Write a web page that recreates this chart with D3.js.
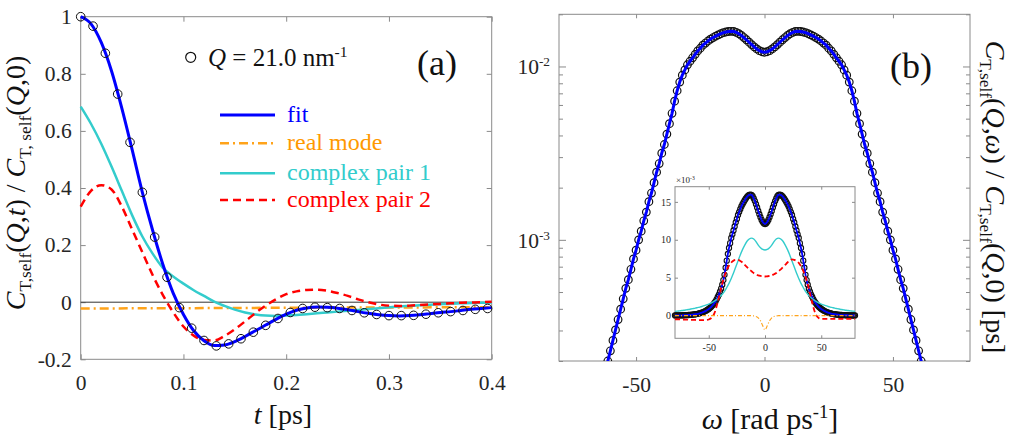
<!DOCTYPE html>
<html>
<head>
<meta charset="utf-8">
<script src="https://cdn.jsdelivr.net/npm/d3@7"></script>
<style>
  body { margin: 0; background: #fff; }
  svg { display: block; font-family: "Liberation Serif", Tinos, "Times New Roman", Times, "DejaVu Serif", serif; }
</style>
</head>
<body>
<script>
// ---------- panel (a): C_T,self(Q,t) at Q = 21.0 nm^-1
const tSample = [0, 0.012, 0.024, 0.036, 0.048, 0.06, 0.072, 0.084, 0.096, 0.108, 0.12, 0.132,
  0.144, 0.156, 0.168, 0.18, 0.192, 0.204, 0.216, 0.228, 0.24, 0.252, 0.264, 0.276, 0.288, 0.3,
  0.312, 0.324, 0.336, 0.348, 0.36, 0.372, 0.384, 0.396];
const cSample = [1.0, 0.967, 0.872, 0.729, 0.56, 0.385, 0.228, 0.0875, -0.019, -0.091, -0.134, -0.153,
  -0.146, -0.128, -0.105, -0.081, -0.057, -0.036, -0.022, -0.0175, -0.019, -0.022, -0.029, -0.037, -0.043, -0.047,
  -0.047, -0.046, -0.042, -0.037, -0.033, -0.029, -0.025, -0.022];

const tFit = [0, 0.01, 0.02, 0.03, 0.04, 0.05, 0.06, 0.07, 0.08, 0.09, 0.1, 0.11, 0.12, 0.13, 0.14,
  0.15, 0.16, 0.17, 0.18, 0.19, 0.2, 0.21, 0.22, 0.23, 0.24, 0.25, 0.26, 0.27, 0.28, 0.29, 0.3,
  0.31, 0.32, 0.33, 0.34, 0.35, 0.36, 0.37, 0.38, 0.39, 0.4];
const fitVals = [1.0, 0.975, 0.91, 0.81, 0.68, 0.535, 0.385, 0.252, 0.132, 0.032, -0.043, -0.1, -0.135, -0.152, -0.15,
  -0.138, -0.12, -0.1, -0.08, -0.06, -0.042, -0.028, -0.02, -0.017, -0.018, -0.021, -0.026, -0.033, -0.039, -0.044, -0.047,
  -0.048, -0.047, -0.044, -0.04, -0.036, -0.033, -0.029, -0.025, -0.022, -0.019];
const pair1Vals = [0.685, 0.625, 0.555, 0.475, 0.39, 0.305, 0.23, 0.17, 0.12, 0.09, 0.065, 0.042, 0.022, 0.002, -0.013,
  -0.026, -0.036, -0.043, -0.047, -0.048, -0.047, -0.045, -0.042, -0.039, -0.036, -0.033, -0.03, -0.027, -0.024, -0.021, -0.018,
  -0.015, -0.013, -0.011, -0.009, -0.007, -0.005, -0.004, -0.003, -0.002, -0.001];
const pair2Vals = [0.335, 0.39, 0.41, 0.395, 0.335, 0.255, 0.175, 0.095, 0.025, -0.035, -0.085, -0.117, -0.132, -0.134, -0.118,
  -0.095, -0.067, -0.038, -0.012, 0.01, 0.028, 0.038, 0.043, 0.044, 0.04, 0.032, 0.022, 0.01, 0.0, -0.008, -0.012,
  -0.013, -0.012, -0.01, -0.008, -0.006, -0.004, -0.002, -0.001, 0.0, 0.002];
const tReal = [0, 0.1, 0.2, 0.3, 0.4];
const realVals = [-0.022, -0.021, -0.0195, -0.0185, -0.0175];

const xTicksA = [0, 0.1, 0.2, 0.3, 0.4];
const yTicksA = [-0.2, 0, 0.2, 0.4, 0.6, 0.8, 1];

// ---------- panel (b): spectrum, values in units of 1e-3 ps
const omega = [-80, -79, -78, -77, -76, -75, -74, -73, -72, -71, -70, -69, -68, -67, -66, -65, -64, -63, -62, -61,
  -60, -59, -58, -57, -56, -55, -54, -53, -52, -51, -50, -49, -48, -47, -46, -45, -44, -43, -42, -41,
  -40, -39, -38, -37, -36, -35, -34, -33, -32, -31, -30, -29, -28, -27, -26, -25, -24, -23, -22, -21,
  -20, -19, -18, -17, -16, -15, -14, -13, -12, -11, -10, -9, -8, -7, -6, -5, -4, -3, -2, -1,
  0, 1, 2, 3, 4, 5, 6, 7, 8, 9, 10, 11, 12, 13, 14, 15, 16, 17, 18, 19,
  20, 21, 22, 23, 24, 25, 26, 27, 28, 29, 30, 31, 32, 33, 34, 35, 36, 37, 38, 39,
  40, 41, 42, 43, 44, 45, 46, 47, 48, 49, 50, 51, 52, 53, 54, 55, 56, 57, 58, 59,
  60, 61, 62, 63, 64, 65, 66, 67, 68, 69, 70, 71, 72, 73, 74, 75, 76, 77, 78, 79, 80];
const spectrum = [0.014, 0.017, 0.019, 0.022, 0.025, 0.029, 0.033, 0.038, 0.044, 0.05, 0.058, 0.066, 0.076, 0.087, 0.1, 0.115, 0.132, 0.151, 0.174, 0.2,
  0.229, 0.263, 0.302, 0.347, 0.398, 0.457, 0.525, 0.589, 0.676, 0.776, 0.871, 1.0, 1.122, 1.288, 1.445, 1.66, 1.862, 2.138, 2.455, 2.754,
  3.162, 3.548, 4.074, 4.677, 5.37, 6.31, 7.244, 8.128, 8.913, 9.55, 10.23, 10.72, 11.22, 11.75, 12.3, 12.74, 13.27, 13.65, 14.03, 14.39,
  14.69, 14.96, 15.21, 15.45, 15.67, 15.81, 15.92, 15.96, 15.92, 15.74, 15.45, 15.1, 14.69, 14.26, 13.8, 13.37, 12.97, 12.62, 12.33, 12.16,
  12.08, 12.16, 12.33, 12.62, 12.97, 13.37, 13.8, 14.26, 14.69, 15.1, 15.45, 15.74, 15.92, 15.96, 15.92, 15.81, 15.67, 15.45, 15.21, 14.96,
  14.69, 14.39, 14.03, 13.65, 13.27, 12.74, 12.3, 11.75, 11.22, 10.72, 10.23, 9.55, 8.913, 8.128, 7.244, 6.31, 5.37, 4.677, 4.074, 3.548,
  3.162, 2.754, 2.455, 2.138, 1.862, 1.66, 1.445, 1.288, 1.122, 1.0, 0.871, 0.776, 0.676, 0.589, 0.525, 0.457, 0.398, 0.347, 0.302, 0.263,
  0.229, 0.2, 0.174, 0.151, 0.132, 0.115, 0.1, 0.087, 0.076, 0.066, 0.058, 0.05, 0.044, 0.038, 0.033, 0.029, 0.025, 0.022, 0.019, 0.017, 0.014];

// inset components, sampled every 2 rad/ps
const omegaC = [-80, -78, -76, -74, -72, -70, -68, -66, -64, -62, -60, -58, -56, -54, -52, -50, -48, -46, -44, -42,
  -40, -38, -36, -34, -32, -30, -28, -26, -24, -22, -20, -18, -16, -14, -12, -10, -8, -6, -4, -2,
  0, 2, 4, 6, 8, 10, 12, 14, 16, 18, 20, 22, 24, 26, 28, 30, 32, 34, 36, 38,
  40, 42, 44, 46, 48, 50, 52, 54, 56, 58, 60, 62, 64, 66, 68, 70, 72, 74, 76, 78, 80];
const pair1Spec = [0.55, 0.58, 0.62, 0.66, 0.7, 0.75, 0.8, 0.86, 0.92, 0.98, 1.05, 1.12, 1.2, 1.3, 1.4, 1.52, 1.65, 1.82, 2.0, 2.22,
  2.5, 2.82, 3.2, 3.7, 4.25, 4.9, 5.6, 6.4, 7.2, 8.0, 8.7, 9.3, 9.8, 10.1, 10.22, 10.1, 9.75, 9.3, 8.95, 8.72,
  8.65, 8.72, 8.95, 9.3, 9.75, 10.1, 10.22, 10.1, 9.8, 9.3, 8.7, 8.0, 7.2, 6.4, 5.6, 4.9, 4.25, 3.7, 3.2, 2.82,
  2.5, 2.22, 2.0, 1.82, 1.65, 1.52, 1.4, 1.3, 1.2, 1.12, 1.05, 0.98, 0.92, 0.86, 0.8, 0.75, 0.7, 0.66, 0.62, 0.58, 0.55];
const pair2Spec = [-0.5, -0.5, -0.51, -0.52, -0.53, -0.54, -0.55, -0.56, -0.57, -0.58, -0.59, -0.6, -0.6, -0.6, -0.58, -0.52, -0.35, 0.0, 0.7, 1.8,
  3.0, 4.2, 5.2, 6.0, 6.6, 7.0, 7.25, 7.35, 7.35, 7.2, 7.0, 6.7, 6.4, 6.1, 5.85, 5.6, 5.45, 5.3, 5.22, 5.18,
  5.15, 5.18, 5.22, 5.3, 5.45, 5.6, 5.85, 6.1, 6.4, 6.7, 7.0, 7.25, 7.4, 7.35, 7.2, 6.95, 6.5, 5.9, 5.1, 4.1,
  2.9, 1.7, 0.6, -0.05, -0.35, -0.45, -0.45, -0.45, -0.45, -0.45, -0.45, -0.45, -0.45, -0.45, -0.45, -0.45, -0.45, -0.45, -0.45, -0.45, -0.45];
const realSpec = [0, 0, 0, 0, 0, 0, 0, 0, 0, 0, 0, 0, 0, 0, 0, 0, 0, 0, 0, 0,
  0, 0, 0, 0, 0, 0, 0, 0, 0, 0, 0, 0, 0, 0, -0.02, -0.05, -0.12, -0.3, -0.7, -1.35,
  -1.9, -1.35, -0.7, -0.3, -0.12, -0.05, -0.02, 0, 0, 0, 0, 0, 0, 0, 0, 0, 0, 0, 0, 0,
  0, 0, 0, 0, 0, 0, 0, 0, 0, 0, 0, 0, 0, 0, 0, 0, 0, 0, 0, 0, 0];

const xTicksB = [-50, 0, 50];
const insetXTicks = [-50, 0, 50];
const insetYTicks = [0, 5, 10, 15];

const legendA = [
  { label: "fit", color: "#0000ff", text: "#0000ff", dash: null, width: 3 },
  { label: "real mode", color: "#ffa31a", text: "#ff9900", dash: "9,4,2,4", width: 2.5 },
  { label: "complex pair 1", color: "#33cccc", text: "#33cccc", dash: null, width: 2.5 },
  { label: "complex pair 2", color: "#ff0000", text: "#ff0000", dash: "8,5", width: 2.5 },
];

const width = 1013;
const height = 435;
const frameColor = "#8a8a8a";
const tickText = "#262626";
const serif = '"Liberation Serif", Tinos, "Times New Roman", Times, "DejaVu Serif", serif';

const svg = d3
  .select("body")
  .append("svg")
  .attr("width", width)
  .attr("height", height)
  .attr("font-family", serif);

// text with italic / sub / sup parts
function richText(sel, parts, fs) {
  sel.style("white-space", "pre");
  let shift = 0;
  parts.forEach(([str, kind]) => {
    const target = kind === "sub" ? fs * 0.22 : kind === "sup" ? -fs * 0.38 : 0;
    const ts = sel.append("tspan").text(str).attr("dy", target - shift);
    shift = target;
    if (kind === "i") ts.attr("font-style", "italic");
    if (kind === "sub" || kind === "sup") ts.attr("font-size", fs * 0.62);
  });
}

// frame with inward ticks on all four sides
function boxAxes(g, x, y, o) {
  const [xl, xr] = x.range();
  const [yb, yt] = y.range();
  const style = (sel) => {
    sel.attr("font-family", serif).attr("font-size", o.fs);
    sel.select(".domain").remove();
    sel.selectAll(".tick line").attr("stroke", frameColor);
    sel.selectAll(".tick text").attr("fill", tickText);
  };
  const none = () => "";
  g.append("g")
    .attr("transform", `translate(0,${yb})`)
    .call(d3.axisBottom(x).tickValues(o.xt).tickSizeInner(-o.len).tickSizeOuter(0)
      .tickPadding(o.xpad).tickFormat(o.xf || none))
    .call(style);
  g.append("g")
    .attr("transform", `translate(0,${yt})`)
    .call(d3.axisTop(x).tickValues(o.xt).tickSizeInner(-o.len).tickSizeOuter(0).tickFormat(none))
    .call(style);
  g.append("g")
    .attr("class", "yleft")
    .attr("transform", `translate(${xl},0)`)
    .call(d3.axisLeft(y).tickValues(o.yt).tickSizeInner(-o.len).tickSizeOuter(0)
      .tickPadding(o.ypad).tickFormat(o.yf || none))
    .call(style);
  g.append("g")
    .attr("class", "yright")
    .attr("transform", `translate(${xr},0)`)
    .call(d3.axisRight(y).tickValues(o.yt).tickSizeInner(-o.len).tickSizeOuter(0).tickFormat(none))
    .call(style);
  g.append("rect")
    .attr("x", xl)
    .attr("y", yt)
    .attr("width", xr - xl)
    .attr("height", yb - yt)
    .attr("fill", "none")
    .attr("stroke", frameColor);
}

// ================= panel (a)
const ax = d3.scaleLinear().domain([0, 0.4]).range([80.7, 491.7]);
const ay = d3.scaleLinear().domain([-0.2, 1]).range([359.3, 16.7]);
const gA = svg.append("g");

boxAxes(gA, ax, ay, {
  xt: xTicksA, yt: yTicksA, len: 5, fs: 21.5, xpad: 15, ypad: 9,
  xf: (d) => String(d), yf: (d) => String(d),
});

gA.append("line")
  .attr("x1", ax(0)).attr("x2", ax(0.4))
  .attr("y1", ay(0)).attr("y2", ay(0))
  .attr("stroke", "#333").attr("stroke-width", 1);

const lineA = (xs) => d3.line().x((d, i) => ax(xs[i])).y((d) => ay(d)).curve(d3.curveMonotoneX);

gA.append("path").datum(realVals)
  .attr("fill", "none").attr("stroke", legendA[1].color).attr("stroke-width", 2.5)
  .attr("stroke-dasharray", legendA[1].dash).attr("d", lineA(tReal));
gA.append("path").datum(pair1Vals)
  .attr("fill", "none").attr("stroke", legendA[2].color).attr("stroke-width", 2.5)
  .attr("d", lineA(tFit));
gA.append("path").datum(pair2Vals)
  .attr("fill", "none").attr("stroke", legendA[3].color).attr("stroke-width", 2.5)
  .attr("stroke-dasharray", legendA[3].dash).attr("d", lineA(tFit));
gA.append("path").datum(fitVals)
  .attr("fill", "none").attr("stroke", legendA[0].color).attr("stroke-width", 3)
  .attr("d", lineA(tFit));

gA.selectAll("circle.pt")
  .data(cSample)
  .join("circle")
  .attr("class", "pt")
  .attr("cx", (d, i) => ax(tSample[i]))
  .attr("cy", (d) => ay(d))
  .attr("r", 4.3)
  .attr("fill", "none")
  .attr("stroke", "#111")
  .attr("stroke-width", 1);

// legend
gA.append("circle").attr("cx", 190.7).attr("cy", 57.3).attr("r", 5)
  .attr("fill", "none").attr("stroke", "#111").attr("stroke-width", 1.2);
gA.append("text").attr("x", 208).attr("y", 66).attr("font-size", 25).attr("fill", "#111")
  .call(richText, [["Q", "i"], [" = 21.0 nm", ""], ["-1", "sup"]], 25);
gA.append("text").attr("x", 417).attr("y", 75).attr("font-size", 36).attr("fill", "#111").text("(a)");

legendA.forEach((item, i) => {
  const yy = [115, 143.3, 173.3, 200][i];
  gA.append("line")
    .attr("x1", 220).attr("x2", 275).attr("y1", yy).attr("y2", yy)
    .attr("stroke", item.color).attr("stroke-width", item.width)
    .attr("stroke-dasharray", item.dash);
  gA.append("text")
    .attr("x", 287).attr("y", yy + 7)
    .attr("font-size", 24).attr("fill", item.text)
    .text(item.label);
});

// axis titles (a)
gA.append("text")
  .attr("x", 283).attr("y", 424)
  .attr("text-anchor", "middle").attr("font-size", 28).attr("fill", "#111")
  .call(richText, [["t", "i"], [" [ps]", ""]], 28);
gA.append("text")
  .attr("transform", "translate(25,183) rotate(-90)")
  .attr("text-anchor", "middle").attr("font-size", 28).attr("fill", "#111")
  .call(richText, [["C", "i"], ["T,self", "sub"], ["(", ""], ["Q", "i"], [",", ""], ["t", "i"], [") / ", ""],
    ["C", "i"], ["T, self", "sub"], ["(", ""], ["Q", "i"], [",0)", ""]], 28);

// ================= panel (b)
const bx = d3.scaleLinear().domain([-80, 80]).range([559, 970]);
const by = d3.scaleLog().domain([2.0e-4, 2.0e-2]).range([361, 14.3]);
const gB = svg.append("g");

boxAxes(gB, bx, by, {
  xt: xTicksB, yt: by.ticks(), len: 4, fs: 21.5, xpad: 16, ypad: 9,
  xf: (d) => String(d),
});
// longer ticks for the decades
gB.select(".yleft").selectAll(".tick line").filter((d) => Math.abs(Math.log10(d) % 1) < 1e-9).attr("x2", 7);
gB.select(".yright").selectAll(".tick line").filter((d) => Math.abs(Math.log10(d) % 1) < 1e-9).attr("x2", -7);

[[1e-2, "-2"], [1e-3, "-3"]].forEach(([v, e]) => {
  gB.append("text")
    .attr("x", 550).attr("y", by(v) + 8)
    .attr("text-anchor", "end").attr("font-size", 21.5).attr("fill", tickText)
    .call(richText, [["10", ""], [e, "sup"]], 21.5);
});

svg.append("clipPath").attr("id", "clipB")
  .append("rect").attr("x", 559).attr("y", 14.3).attr("width", 411).attr("height", 346.7);

const plotB = gB.append("g").attr("clip-path", "url(#clipB)");
plotB.selectAll("circle")
  .data(spectrum)
  .join("circle")
  .attr("cx", (d, i) => bx(omega[i]))
  .attr("cy", (d) => by(d * 1e-3))
  .attr("r", 3.8)
  .attr("fill", "none")
  .attr("stroke", "#111")
  .attr("stroke-width", 1.2);
plotB.append("path").datum(spectrum)
  .attr("fill", "none").attr("stroke", "#0000ff").attr("stroke-width", 3)
  .attr("d", d3.line().x((d, i) => bx(omega[i])).y((d) => by(d * 1e-3)));

gB.append("text").attr("x", 890).attr("y", 78).attr("font-size", 36).attr("fill", "#111").text("(b)");

gB.append("text")
  .attr("x", 770).attr("y", 429)
  .attr("text-anchor", "middle").attr("font-size", 30).attr("fill", "#111")
  .call(richText, [["ω", "i"], [" [rad ps", ""], ["-1", "sup"], ["]", ""]], 30);
gB.append("text")
  .attr("transform", "translate(986,197) rotate(90)")
  .attr("text-anchor", "middle").attr("font-size", 28).attr("fill", "#111")
  .call(richText, [["C", "i"], ["T,self", "sub"], ["(", ""], ["Q", "i"], [",", ""], ["ω", "i"], [") / ", ""],
    ["C", "i"], ["T,self", "sub"], ["(", ""], ["Q", "i"], [",0) [ps]", ""]], 28);

// ---------- inset (linear scale)
const ix = d3.scaleLinear().domain([-80, 80]).range([675, 855]);
const iy = d3.scaleLinear().domain([-3, 17]).range([338.3, 186.7]);
const gI = svg.append("g");

gI.append("rect").attr("x", 675).attr("y", 186.7).attr("width", 180).attr("height", 151.6).attr("fill", "#fff");
boxAxes(gI, ix, iy, {
  xt: insetXTicks, yt: insetYTicks, len: 3, fs: 10, xpad: 6, ypad: 4,
  xf: (d) => String(d), yf: (d) => String(d),
});
gI.append("text").attr("x", 676).attr("y", 183).attr("font-size", 9).attr("fill", tickText)
  .call(richText, [["×10", ""], ["-3", "sup"]], 9);

const lineI = (xs) => d3.line().x((d, i) => ix(xs[i])).y((d) => iy(d)).curve(d3.curveMonotoneX);

gI.selectAll("circle.ipt")
  .data(spectrum)
  .join("circle")
  .attr("class", "ipt")
  .attr("cx", (d, i) => ix(omega[i]))
  .attr("cy", (d) => iy(d))
  .attr("r", 2.6)
  .attr("fill", "none")
  .attr("stroke", "#111")
  .attr("stroke-width", 1.1);
gI.append("path").datum(spectrum)
  .attr("fill", "none").attr("stroke", "#0000ff").attr("stroke-width", 1.8)
  .attr("d", lineI(omega));
gI.append("path").datum(pair1Spec)
  .attr("fill", "none").attr("stroke", "#33cccc").attr("stroke-width", 1.4)
  .attr("d", lineI(omegaC));
gI.append("path").datum(pair2Spec)
  .attr("fill", "none").attr("stroke", "#ff0000").attr("stroke-width", 1.8)
  .attr("stroke-dasharray", "5,3").attr("d", lineI(omegaC));
gI.append("path").datum(realSpec)
  .attr("fill", "none").attr("stroke", "#ffa31a").attr("stroke-width", 1.2)
  .attr("stroke-dasharray", "4,2,1,2").attr("d", lineI(omegaC));
</script>
</body>
</html>
